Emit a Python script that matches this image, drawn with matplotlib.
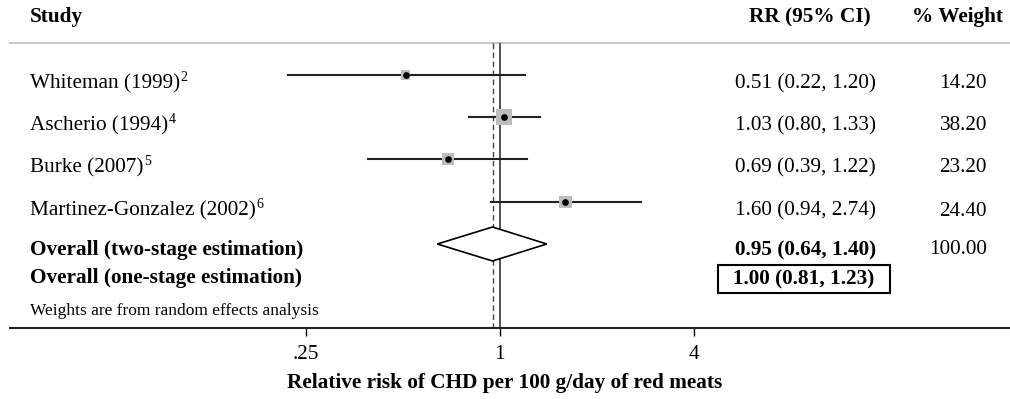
import numpy as np
import matplotlib.pyplot as plt
from matplotlib.transforms import blended_transform_factory

plt.rcParams['font.family'] = 'Liberation Serif'

studies = ['Whiteman (1999)', 'Ascherio (1994)', 'Burke (2007)', 'Martinez-Gonzalez (2002)']
refs = ['2', '4', '5', '6']
rr = [0.51, 1.03, 0.69, 1.60]
lo = [0.22, 0.80, 0.39, 0.94]
hi = [1.20, 1.33, 1.22, 2.74]
weight = [14.20, 38.20, 23.20, 24.40]

two_stage = (0.95, 0.64, 1.40)
one_stage = (1.00, 0.81, 1.23)

# layout (pixel rows from the top)
row_y = [75, 117, 159, 202]
W, H = 1010, 399
axis_y = 328
fs = 15.3

fig = plt.figure(figsize=(W / 100, H / 100), dpi=100)
ax = fig.add_axes([0, (H - axis_y) / H, 1, axis_y / H])
ax.set_xscale('log', base=2)
x0, ppl = 499.7, 96.9   # pixel of 1, pixels per log2 unit
ax.set_xlim(2 ** (-x0 / ppl), 2 ** ((W - x0) / ppl))
ax.set_ylim(axis_y, 0)

for s in ['top', 'left', 'right']:
    ax.spines[s].set_visible(False)
ax.spines['bottom'].set_bounds(2 ** ((10 - x0) / ppl), 2 ** ((W - x0) / ppl))
ax.spines['bottom'].set_linewidth(1.5)
ax.spines['bottom'].set_color('#222222')
ax.set_yticks([])
ax.set_xticks([0.25, 1, 4])
ax.set_xticklabels(['.25', '1', '4'])
ax.xaxis.set_minor_locator(plt.NullLocator())
ax.tick_params(axis='x', direction='out', length=6, width=1, labelsize=fs, pad=6)
ax.set_xlabel('Relative risk of CHD per 100 g/day of red meats', fontsize=fs,
              fontweight='bold', labelpad=7)

tr = blended_transform_factory(ax.transAxes, ax.transData)

# header
ax.text(30 / W, 17, 'Study', transform=tr, fontsize=fs, fontweight='bold', va='center')
ax.text(810 / W, 17, 'RR (95% CI)', transform=tr, fontsize=fs, fontweight='bold',
        va='center', ha='center')
ax.text(1003 / W, 17, '% Weight', transform=tr, fontsize=fs, fontweight='bold',
        va='center', ha='right')
ax.axhline(43, xmin=10 / W, xmax=1, color='#c8c8c8', lw=1.5)

# reference lines
ax.vlines(1, 43, axis_y, color='#444444', lw=1.3)
ax.vlines(two_stage[0], 43, axis_y, color='#444444', lw=1, linestyles=(0, (4, 2.5)))

# studies
for i in range(len(studies)):
    y = row_y[i]
    ax.plot([lo[i], hi[i]], [y, y], color='#222222', lw=1.5, zorder=2)
    ax.scatter([rr[i]], [y], marker='s', s=weight[i] * 3.4, color='#bdbdbd',
               edgecolors='none', zorder=3)
    ax.plot([rr[i]], [y], 'o', color='black', ms=3.8, zorder=4)
    t = ax.text(30 / W, y + 9, studies[i], transform=tr, fontsize=fs, va='center')
    ax.annotate(refs[i], xy=(1, 1), xycoords=t, xytext=(0.5, 2.5),
                textcoords='offset points', fontsize=10, va='top', ha='left')
    ax.text(735 / W, y + 9, f'{rr[i]:.2f} ({lo[i]:.2f}, {hi[i]:.2f})', transform=tr,
            fontsize=fs, va='center')
    ax.text(987 / W, y + 9, f'{weight[i]:.2f}', transform=tr, fontsize=fs,
            va='center', ha='right')

# overall two-stage
yd = 244
est, l2, h2 = two_stage
ax.fill([l2, est, h2, est], [yd, yd - 17, yd, yd + 17], facecolor='white',
        edgecolor='black', lw=1.2, zorder=3)
ax.text(30 / W, 250, 'Overall (two-stage estimation)', transform=tr, fontsize=fs,
        fontweight='bold', va='center')
ax.text(735 / W, 250, f'{est:.2f} ({l2:.2f}, {h2:.2f})', transform=tr, fontsize=fs,
        fontweight='bold', va='center')
ax.text(987 / W, 250, f'{sum(weight):.2f}', transform=tr, fontsize=fs,
        va='center', ha='right')

# overall one-stage
e1, l1, h1 = one_stage
ax.text(30 / W, 278, 'Overall (one-stage estimation)', transform=tr, fontsize=fs,
        fontweight='bold', va='center')
ax.text(804 / W, 279, f'  {e1:.2f} ({l1:.2f}, {h1:.2f})  ', transform=tr, fontsize=fs,
        fontweight='bold', va='center', ha='center',
        bbox=dict(boxstyle='square,pad=0.2', facecolor='white', edgecolor='black', lw=1.5))

ax.text(30 / W, 311, 'Weights are from random effects analysis', transform=tr,
        fontsize=12.5, va='center')

fig.savefig('out.png', dpi=100)
